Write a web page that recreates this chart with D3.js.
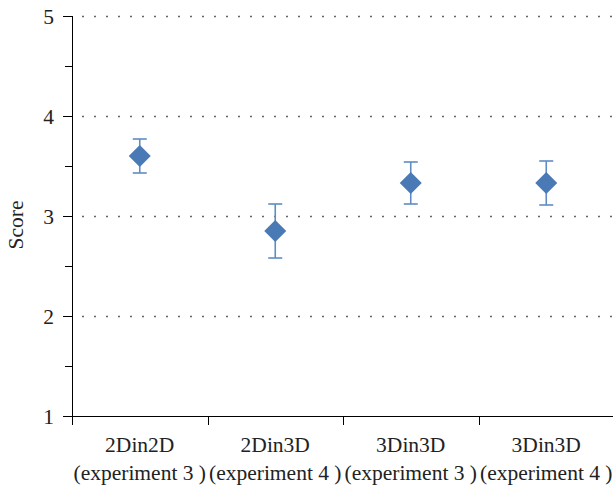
<!DOCTYPE html>
<html>
<head>
<meta charset="utf-8">
<script src="https://cdn.jsdelivr.net/npm/d3@7"></script>
<style>
  body { margin: 0; background: #fff; }
  svg text { font-family: "Liberation Serif", "DejaVu Serif", serif; fill: #222; }
</style>
</head>
<body>
<svg id="chart" width="613" height="487"></svg>
<script>
// Mean scores with error ranges per condition
const groups = ["2Din2D", "2Din3D", "3Din3D", "3Din3D "];
const subLabels = ["(experiment 3 )", "(experiment 4 )", "(experiment 3 )", "(experiment 4 )"];
const means = [3.6, 2.85, 3.33, 3.33];
const upper = [3.77, 3.12, 3.54, 3.55];
const lower = [3.43, 2.58, 3.12, 3.11];
const yTicks = [1, 2, 3, 4, 5];
const yMinorTicks = [1.5, 2.5, 3.5, 4.5];

const svg = d3.select("#chart");
const plotLeft = 72, plotRight = 614, plotTop = 16, plotBottom = 416;
const fontSize = 21.5;

const x = d3.scaleBand().domain(groups).range([plotLeft, plotRight]);
const y = d3.scaleLinear().domain([1, 5]).range([plotBottom, plotTop]);

// dotted horizontal grid
svg.append("g").selectAll("line").data(yTicks.slice(1)).join("line")
  .attr("x1", plotLeft + 10).attr("x2", plotRight)
  .attr("y1", d => y(d) + 0.5).attr("y2", d => y(d) + 0.5)
  .attr("stroke", "#666").attr("stroke-width", 1.3)
  .attr("stroke-dasharray", "2,10");

// y axis
const yAxis = svg.append("g").attr("transform", `translate(${plotLeft},0)`)
  .call(d3.axisLeft(y).tickValues(yTicks).tickFormat(d3.format("d")).tickSize(9).tickPadding(9));
yAxis.select(".domain").attr("d", `M0.5,${plotTop}V${plotBottom + 9}`);
yAxis.selectAll("text").attr("font-size", fontSize).attr("dy", "0.34em");
svg.append("g").attr("transform", `translate(${plotLeft},0)`)
  .selectAll("line").data(yMinorTicks).join("line")
  .attr("x1", -7).attr("x2", 0)
  .attr("y1", d => y(d) + 0.5).attr("y2", d => y(d) + 0.5)
  .attr("stroke", "#000");

// x axis
const xAxis = svg.append("g").attr("transform", `translate(0,${plotBottom})`)
  .call(d3.axisBottom(x).tickSize(0).tickFormat(""));
xAxis.select(".domain").attr("d", `M${plotLeft - 9},0.5H${plotRight}`);
svg.append("g").selectAll("line").data(groups.map(g => x(g)).concat([plotRight - 1])).join("line")
  .attr("x1", d => Math.round(d) + 0.5).attr("x2", d => Math.round(d) + 0.5)
  .attr("y1", plotBottom).attr("y2", plotBottom + 9)
  .attr("stroke", "#000");

// category labels, two lines each
const labels = svg.append("g").selectAll("text").data(groups).join("text")
  .attr("text-anchor", "middle").attr("font-size", fontSize);
labels.append("tspan").attr("x", d => x(d) + x.bandwidth() / 2).attr("y", 452).text(d => d.trim());
labels.append("tspan").attr("x", d => x(d) + x.bandwidth() / 2).attr("y", 480).text((d, i) => subLabels[i]);

// y axis title
svg.append("text").attr("transform", "translate(23,225) rotate(-90)")
  .attr("text-anchor", "middle").attr("font-size", fontSize).text("Score");

// error bars
const cx = d => x(d) + x.bandwidth() / 2;
const eb = svg.append("g").attr("stroke", "#5f8cc4").attr("stroke-width", 1.6);
groups.forEach((g, i) => {
  const c = cx(g);
  eb.append("line").attr("x1", c).attr("x2", c).attr("y1", y(upper[i])).attr("y2", y(lower[i]));
  eb.append("line").attr("x1", c - 7).attr("x2", c + 7).attr("y1", y(upper[i])).attr("y2", y(upper[i]));
  eb.append("line").attr("x1", c - 7).attr("x2", c + 7).attr("y1", y(lower[i])).attr("y2", y(lower[i]));
});

// diamond markers
const diamond = d3.symbol().type(d3.symbolSquare).size(242);
svg.append("g").selectAll("path").data(groups).join("path")
  .attr("d", diamond)
  .attr("transform", (d, i) => `translate(${cx(d)},${y(means[i])}) rotate(45)`)
  .attr("fill", "#4a7ab6");
</script>
</body>
</html>
